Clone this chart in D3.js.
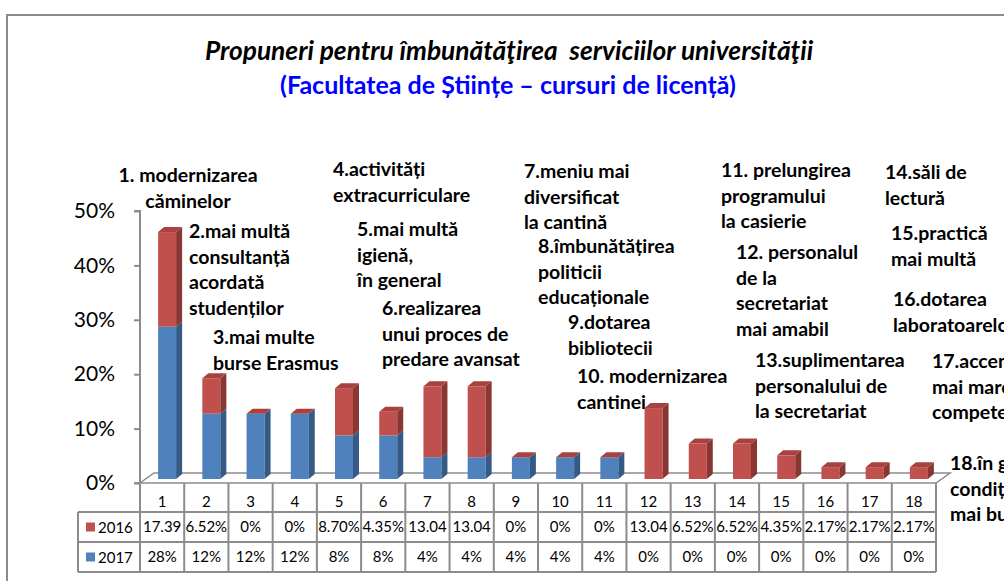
<!DOCTYPE html>
<html><head><meta charset="utf-8">
<script src="https://cdn.jsdelivr.net/npm/d3@7"></script>
<style>
html,body{margin:0;padding:0;background:#fff;overflow:hidden}
svg{display:block}
</style></head>
<body>
<svg id="chart" width="1004" height="581"></svg>
<script>
// ---------- data ----------
const categories = ["1","2","3","4","5","6","7","8","9","10","11","12","13","14","15","16","17","18"];
const values2016 = [17.39, 6.52, 0, 0, 8.70, 4.35, 13.04, 13.04, 0, 0, 0, 13.04, 6.52, 6.52, 4.35, 2.17, 2.17, 2.17];
const values2017 = [28, 12, 12, 12, 8, 8, 4, 4, 4, 4, 4, 0, 0, 0, 0, 0, 0, 0];
const tableText2016 = ["17.39","6.52%","0%","0%","8.70%","4.35%","13.04","13.04","0%","0%","0%","13.04","6.52%","6.52%","4.35%","2.17%","2.17%","2.17%"];
const tableText2017 = ["28%","12%","12%","12%","8%","8%","4%","4%","4%","4%","4%","0%","0%","0%","0%","0%","0%","0%"];
const yTickValues = [0, 10, 20, 30, 40, 50];
const seriesNames = ["2016", "2017"];
const titleText = "Propuneri pentru îmbunătăţirea  serviciilor universităţii";
const subtitleText = "(Facultatea de Științe – cursuri de licență)";
const annotationLines = [
  ["1. modernizarea", "căminelor"],
  ["2.mai multă", "consultanță", "acordată", "studenților"],
  ["3.mai multe", "burse Erasmus"],
  ["4.activități", "extracurriculare"],
  ["5.mai multă", "igienă,", "în general"],
  ["6.realizarea", "unui proces de", "predare avansat"],
  ["7.meniu mai", "diversificat", "la cantină"],
  ["8.îmbunătățirea", "politicii", "educaționale"],
  ["9.dotarea", "bibliotecii"],
  ["10. modernizarea", "cantinei"],
  ["11. prelungirea", "programului", "la casierie"],
  ["12. personalul", "de la", "secretariat", "mai amabil"],
  ["13.suplimentarea", "personalului de", "la secretariat"],
  ["14.săli de", "lectură"],
  ["15.practică", "mai multă"],
  ["16.dotarea", "laboratoarelor"],
  ["17.accent", "mai mare pe", "competențe"],
  ["18.în general,", "condiții", "mai bune"]
];

// ---------- layout (positions of annotation blocks: x, first-line centre y, anchor) ----------
const annotationLayout = [
  [188, 175, "middle"], [189, 231, "start"], [213, 337, "start"], [333, 169, "start"],
  [357, 229, "start"], [382, 308, "start"], [524, 171, "start"], [538, 246, "start"],
  [568, 322, "start"], [577, 376, "start"], [721, 170, "start"], [736, 252, "start"],
  [755, 360, "start"], [885, 172, "start"], [891, 233, "start"], [893, 299, "start"],
  [932, 361, "start"], [950, 463, "start"]
];

const FONT = "Lato, 'Open Sans', sans-serif";
const GRID = "#8c8c8c";
const colors = {
  red:  {front: "#C0504D", side: "#8A3633", top: "#A9413E"},
  blue: {front: "#4F81BD", side: "#355A86", top: "#4474AD"}
};

const svg = d3.select("#chart");

// outer chart border
svg.append("path")
  .attr("d", "M7,581 L7,15 L1010,15")
  .attr("fill", "none").attr("stroke", GRID).attr("stroke-width", 2);

// titles
svg.append("text").attr("x", 509).attr("y", 60).attr("text-anchor", "middle")
  .attr("font-family", FONT).attr("font-size", 26.3).attr("font-weight", "bold").attr("font-style", "italic")
  .attr("fill", "#000").style("white-space", "pre").text(titleText);
svg.append("text").attr("x", 508).attr("y", 94).attr("text-anchor", "middle")
  .attr("font-family", FONT).attr("font-size", 25).attr("font-weight", "bold")
  .attr("fill", "#0000FF").text(subtitleText);

// scales
const x = d3.scaleBand().domain(categories).range([140, 936]).padding(0);
const y = d3.scaleLinear().domain([0, 50]).range([483, 211]);

const depthX = 6, depthY = -5;      // bar depth
const floorDX = 14, floorDY = -10;  // floor depth
const barShiftY = -4;               // bars sit in the middle of floor depth
const barW = 18;

// floor
const x0f = x.range()[0], x1f = x.range()[1], y0f = y(0);
svg.append("path")
  .attr("d", `M${x0f},${y0f} L${x0f+floorDX},${y0f+floorDY} L${x1f+floorDX},${y0f+floorDY} L${x1f},${y0f} Z`)
  .attr("fill", "#fff").attr("stroke", GRID).attr("stroke-width", 1.5);

// y axis
const yAxis = d3.axisLeft(y).tickValues(yTickValues).tickFormat(d => d + "%").tickSize(6).tickPadding(19);
const gAxis = svg.append("g").attr("transform", "translate(140,0)").call(yAxis);
gAxis.select(".domain").attr("stroke", GRID).attr("stroke-width", 2).attr("d", `M-6,${y(50)}H0V${y(0)}H-6`);
gAxis.selectAll(".tick line").attr("stroke", GRID).attr("stroke-width", 2);
gAxis.selectAll(".tick text").attr("font-family", FONT).attr("font-size", 21).attr("fill", "#000");

// bars
function seg(g, xl, v0, v1, c, drawTop) {
  const yb = y(v0) + barShiftY, yt = y(v1) + barShiftY;
  if (v1 > v0) {
    g.append("rect").attr("x", xl).attr("y", yt).attr("width", barW).attr("height", yb - yt).attr("fill", c.front);
    g.append("path").attr("d",
      `M${xl+barW},${yt} L${xl+barW+depthX},${yt+depthY} L${xl+barW+depthX},${yb+depthY} L${xl+barW},${yb} Z`)
      .attr("fill", c.side);
  }
  if (drawTop) {
    g.append("path").attr("d",
      `M${xl},${yt} L${xl+barW},${yt} L${xl+barW+depthX},${yt+depthY} L${xl+depthX},${yt+depthY} Z`)
      .attr("fill", c.top);
  }
}
const gBars = svg.append("g");
categories.forEach((cat, i) => {
  const xl = x(cat) + x.bandwidth() / 2 - 4;
  const b = values2017[i], r = values2016[i];
  const g = gBars.append("g");
  seg(g, xl, 0, b, colors.blue, false);
  seg(g, xl, b, b + r, colors.red, true);
});

// data table
const rowTop = y(0), rowCat = 512, row16 = 542, row17 = 572, legL = 78;
const gt = svg.append("g");
const line = (x1, y1, x2, y2) => gt.append("line").attr("x1", x1).attr("y1", y1).attr("x2", x2).attr("y2", y2)
  .attr("stroke", GRID).attr("stroke-width", 2);
[rowCat, row16, row17].forEach(yy => line(legL, yy, x1f, yy));
line(legL, rowCat, legL, row17);
categories.forEach(cat => line(x(cat), rowTop, x(cat), row17));
line(x1f, rowTop, x1f, row17);

const txt = (xx, yy, s, anchor) => gt.append("text").attr("x", xx).attr("y", yy).attr("text-anchor", anchor || "middle")
  .attr("font-family", FONT).attr("font-size", 15).attr("fill", "#000").text(s);
categories.forEach((cat, i) => {
  const cx = x(cat) + x.bandwidth() / 2;
  txt(cx, 507, cat);
  txt(cx, 532, tableText2016[i]);
  txt(cx, 562, tableText2017[i]);
});
// legend keys in table
[[seriesNames[0], colors.red.front, 527], [seriesNames[1], colors.blue.front, 557]].forEach(([name, col, cy]) => {
  gt.append("rect").attr("x", 86).attr("y", cy - 4.5).attr("width", 9).attr("height", 9).attr("fill", col);
  txt(98, cy + 5.5, name, "start");
});

// annotations
const gAnn = svg.append("g");
annotationLines.forEach((lines, i) => {
  const [ax, ay, anchor] = annotationLayout[i];
  const t = gAnn.append("text").attr("font-family", FONT).attr("font-size", 19.5).attr("font-weight", "bold")
    .attr("fill", "#000").attr("text-anchor", anchor);
  lines.forEach((s, j) => {
    t.append("tspan").attr("x", ax).attr("y", ay + 7 + j * 25.5).text(s);
  });
});
</script>
</body></html>
